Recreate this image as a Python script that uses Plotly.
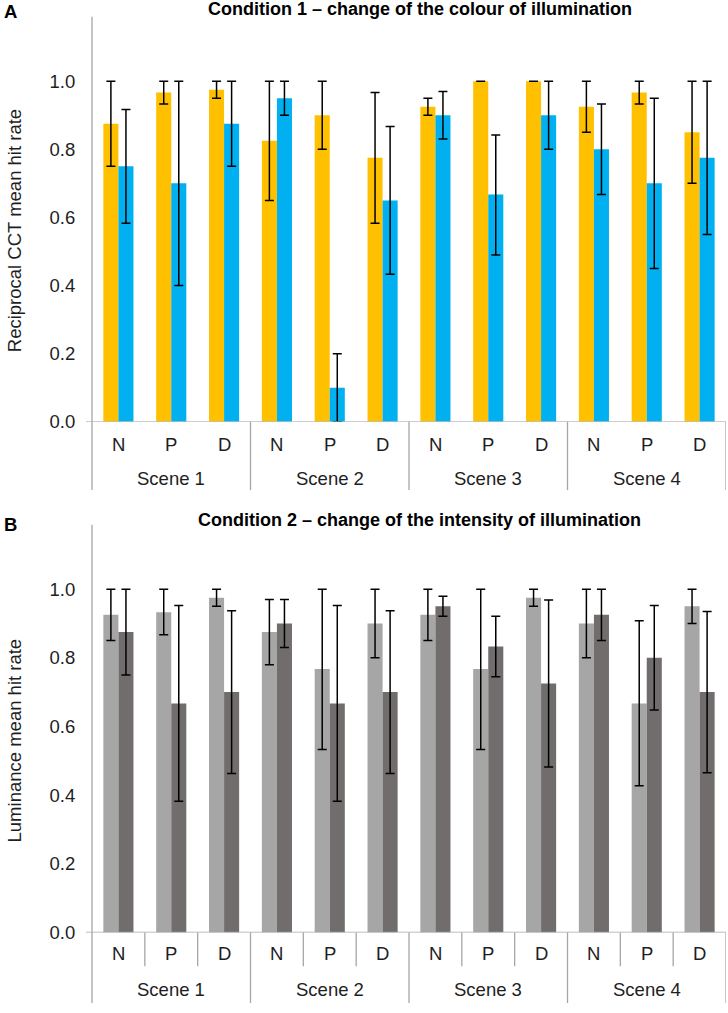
import plotly.graph_objects as go

W, H = 728, 1013

scenes = ["Scene 1", "Scene 2", "Scene 3", "Scene 4"]
conds = ["N", "P", "D"]
yticks = [0.0, 0.2, 0.4, 0.6, 0.8, 1.0]

# Panel A: reciprocal CCT mean hit rate (orange / blue series)
cct_a = [0.875, 0.967, 0.975, 0.825, 0.90, 0.775, 0.925, 1.0, 1.0, 0.925, 0.967, 0.85]
cct_a_hi = [1.0, 1.0, 1.0, 1.0, 1.0, 0.967, 0.95, 1.0, 1.0, 1.0, 1.0, 1.0]
cct_a_lo = [0.75, 0.933, 0.95, 0.65, 0.80, 0.583, 0.90, 1.0, 1.0, 0.85, 0.933, 0.70]
cct_b = [0.75, 0.70, 0.875, 0.95, 0.10, 0.65, 0.90, 0.667, 0.90, 0.80, 0.70, 0.775]
cct_b_hi = [0.917, 1.0, 1.0, 1.0, 0.20, 0.867, 0.97, 0.842, 1.0, 0.933, 0.95, 1.0]
cct_b_lo = [0.583, 0.40, 0.75, 0.90, 0.0, 0.433, 0.83, 0.49, 0.80, 0.667, 0.45, 0.55]

# Panel B: luminance mean hit rate (light / dark grey series)
lum_a = [0.925, 0.933, 0.975, 0.875, 0.767, 0.90, 0.925, 0.767, 0.975, 0.90, 0.667, 0.95]
lum_a_hi = [1.0, 1.0, 1.0, 0.97, 1.0, 1.0, 1.0, 1.0, 1.0, 1.0, 0.908, 1.0]
lum_a_lo = [0.85, 0.867, 0.95, 0.78, 0.533, 0.80, 0.85, 0.533, 0.95, 0.80, 0.427, 0.90]
lum_b = [0.875, 0.667, 0.70, 0.90, 0.667, 0.70, 0.95, 0.833, 0.725, 0.925, 0.80, 0.70]
lum_b_hi = [1.0, 0.952, 0.937, 0.97, 0.952, 0.937, 0.979, 0.921, 0.968, 1.0, 0.952, 0.935]
lum_b_lo = [0.75, 0.382, 0.463, 0.83, 0.382, 0.463, 0.921, 0.745, 0.482, 0.85, 0.648, 0.465]

labels = [c for s in scenes for c in conds]
xs = list(range(len(labels)))

FONT = "Liberation Sans, Arial, sans-serif"
TXT = "#1e1e1e"
LINE = "#a6a6a6"
FS = 18.5


def px_x(p):
    return p / W


def px_y(p):
    return 1 - p / H


def bar(vals, hi, lo, color, xa, ya):
    return go.Bar(
        x=xs, y=vals, marker=dict(color=color, line=dict(width=0)),
        error_y=dict(type="data", symmetric=False,
                     array=[h - v for h, v in zip(hi, vals)],
                     arrayminus=[v - l for v, l in zip(vals, lo)],
                     color="black", thickness=1.5, width=4.5),
        xaxis=xa, yaxis=ya, showlegend=False, hoverinfo="skip")


fig = go.Figure()
fig.add_trace(bar(cct_a, cct_a_hi, cct_a_lo, "#ffc000", "x", "y"))
fig.add_trace(bar(cct_b, cct_b_hi, cct_b_lo, "#00b0f0", "x", "y"))
fig.add_trace(bar(lum_a, lum_a_hi, lum_a_lo, "#a6a6a6", "x2", "y2"))
fig.add_trace(bar(lum_b, lum_b_hi, lum_b_lo, "#716d6d", "x2", "y2"))

# panel pixel geometry
panels = [
    dict(xa="x", ya="y", top=17, zero=426, one=82, lab=449, scene=483, bottom=495, inner=False,
         letter="A", ly=12, title="Condition 1 – change of the colour of illumination", ty=9,
         ytitle="Reciprocal CCT mean hit rate"),
    dict(xa="x2", ya="y2", top=530, zero=941.7, one=595, lab=963, scene=999, bottom=1013, inner=True,
         letter="B", ly=530, title="Condition 2 – change of the intensity of illumination", ty=525,
         ytitle="Luminance mean hit rate"),
]
x_left, x_right = 92, 726

shapes, annots = [], []
lay = {}
for i, p in enumerate(panels):
    sfx = "" if i == 0 else "2"
    unit = p["zero"] - p["one"]
    ymax = (p["zero"] - p["top"]) / unit
    lay["xaxis" + sfx] = dict(domain=[px_x(x_left), px_x(x_right)], range=[-0.5, len(xs) - 0.5],
                              showticklabels=False, showgrid=False, zeroline=False, showline=False,
                              anchor="y" + sfx, fixedrange=True)
    lay["yaxis" + sfx] = dict(domain=[px_y(p["zero"]), px_y(p["top"])], range=[0, ymax],
                              tickvals=yticks, tickformat=".1f", ticks="outside", ticklen=12,
                              tickcolor="rgba(0,0,0,0)",
                              showgrid=False, zeroline=False, showline=False,
                              tickfont=dict(family=FONT, size=FS, color=TXT),
                              anchor="x" + sfx, fixedrange=True)
    xr, yr = p["xa"], p["ya"]
    # x axis line (extends a bit left of y axis)
    shapes.append(dict(type="line", xref="paper", yref=yr, x0=px_x(x_left - 6), x1=px_x(x_right),
                       y0=0, y1=0, line=dict(color=LINE, width=1.3)))
    # y axis line
    shapes.append(dict(type="line", xref="paper", yref="paper", x0=px_x(x_left), x1=px_x(x_left),
                       y0=px_y(p["top"]), y1=px_y(p["bottom"]), line=dict(color=LINE, width=1.3)))
    # scene separators
    for k in range(1, len(scenes) + 1):
        xb = k * len(conds) - 0.5
        shapes.append(dict(type="line", xref=xr, yref="paper", x0=xb, x1=xb,
                           y0=px_y(p["zero"]), y1=px_y(p["bottom"]), line=dict(color=LINE, width=1.3)))
    if p["inner"]:
        for k in range(len(scenes)):
            for j in range(1, len(conds)):
                xb = k * len(conds) + j - 0.5
                shapes.append(dict(type="line", xref=xr, yref="paper", x0=xb, x1=xb,
                                   y0=px_y(p["zero"]), y1=px_y(976), line=dict(color=LINE, width=1.3)))
    for xi, lab in zip(xs, labels):
        annots.append(dict(x=xi, y=px_y(p["lab"]), xref=xr, yref="paper", text=lab, showarrow=False,
                           font=dict(family=FONT, size=FS, color=TXT), xanchor="center", yanchor="middle"))
    for k, s in enumerate(scenes):
        annots.append(dict(x=k * len(conds) + (len(conds) - 1) / 2, y=px_y(p["scene"]), xref=xr, yref="paper",
                           text=s, showarrow=False, font=dict(family=FONT, size=FS, color=TXT),
                           xanchor="center", yanchor="middle"))
    annots.append(dict(x=px_x(2), y=px_y(p["ly"]), xref="paper", yref="paper", text="<b>" + p["letter"] + "</b>",
                       showarrow=False, font=dict(family=FONT, size=FS, color="black"),
                       xanchor="left", yanchor="middle"))
    annots.append(dict(x=px_x(420), y=px_y(p["ty"]), xref="paper", yref="paper", text="<b>" + p["title"] + "</b>",
                       showarrow=False, font=dict(family=FONT, size=18, color="black"),
                       xanchor="center", yanchor="middle"))
    annots.append(dict(x=px_x(14), y=px_y((p["top"] + p["zero"]) / 2 + 12), xref="paper", yref="paper",
                       text=p["ytitle"], textangle=-90, showarrow=False,
                       font=dict(family=FONT, size=FS, color=TXT), xanchor="center", yanchor="middle"))

fig.update_layout(
    width=W, height=H, margin=dict(l=0, r=0, t=0, b=0),
    paper_bgcolor="white", plot_bgcolor="white",
    barmode="group", bargap=0.43, bargroupgap=0,
    shapes=shapes, annotations=annots, **lay,
)

fig.write_html("out.html", config={"displayModeBar": False},
               post_script="document.body.style.margin='0';document.body.style.overflow='hidden';")
